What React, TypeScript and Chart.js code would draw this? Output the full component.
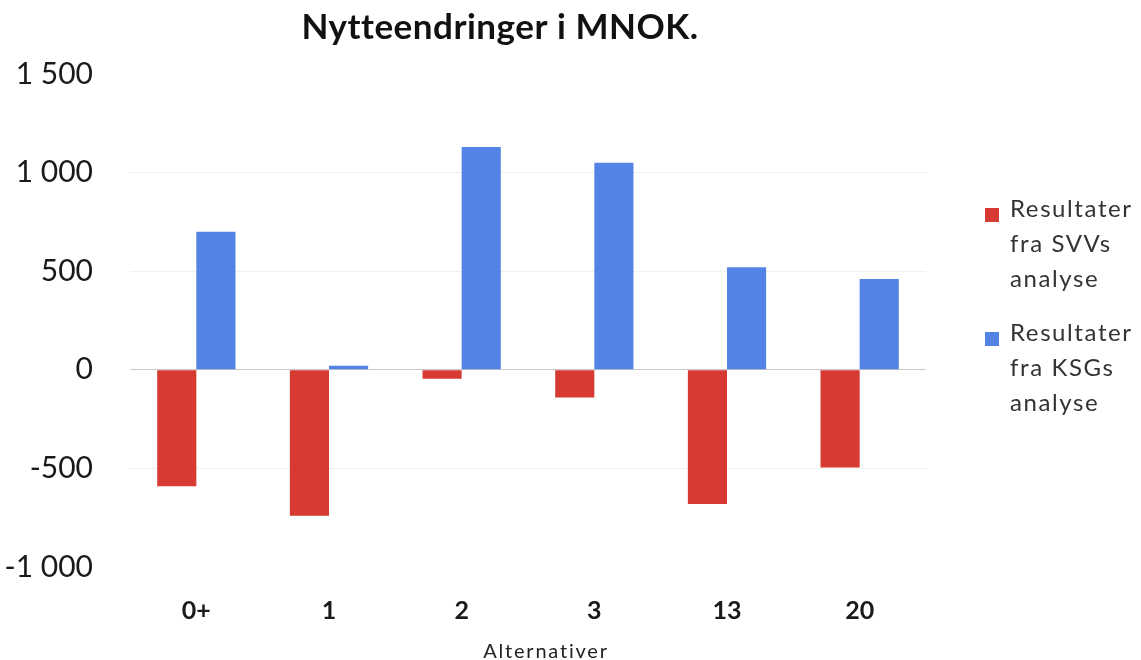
import React, { useEffect, useRef } from "react";
import { Chart, registerables } from "chart.js";

Chart.register(...registerables);

const categories = ["0+", "1", "2", "3", "13", "20"];
const svvValues = [-590, -740, -45, -140, -680, -495];
const ksgValues = [700, 20, 1130, 1050, 520, 460];
const seriesNames = [["Resultater", "fra SVVs", "analyse"], ["Resultater", "fra KSGs", "analyse"]];
const chartTitle = "Nytteendringer i MNOK.";
const xAxisTitle = "Alternativer";
const yMin = -1000;
const yMax = 1500;
const yStep = 500;

const RED = "#d63a33";
const BLUE = "#5383e5";
const FONT = "Lato, 'Open Sans', sans-serif";

function fmt(v: number): string {
  const s = Math.abs(v).toString().replace(/\B(?=(\d{3})+(?!\d))/g, " ");
  return (v < 0 ? "-" : "") + s;
}

const textPlugin = {
  id: "customText",
  afterDraw(chart: any) {
    const ctx = chart.ctx;
    ctx.save();
    // title
    ctx.fillStyle = "#111";
    ctx.font = `bold 35px ${FONT}`;
    ctx.textAlign = "center";
    ctx.textBaseline = "alphabetic";
    (ctx as any).letterSpacing = "0.5px";
    ctx.fillText(chartTitle, 500, 39);
    // x-axis title
    ctx.font = `20px ${FONT}`;
    ctx.fillStyle = "#222";
    (ctx as any).letterSpacing = "1.8px";
    ctx.fillText(xAxisTitle, 546, 658);
    // legend
    const colors = chart.data.datasets.map((d: any) => d.backgroundColor);
    const tops = [208, 332];
    ctx.textAlign = "left";
    ctx.font = `24px ${FONT}`;
    (ctx as any).letterSpacing = "1.6px";
    seriesNames.forEach((lines, i) => {
      ctx.fillStyle = colors[i];
      ctx.fillRect(985, tops[i], 14, 14);
      ctx.fillStyle = "#333";
      lines.forEach((ln, j) => {
        ctx.fillText(ln, 1010, tops[i] + 9 + j * 35);
      });
    });
    ctx.restore();
  },
};

export default function App() {
  const ref = useRef<HTMLCanvasElement | null>(null);
  useEffect(() => {
    document.body.style.margin = "0";
    if (!ref.current) return;
    const chart = new Chart(ref.current, {
      type: "bar",
      data: {
        labels: categories,
        datasets: [
          { label: seriesNames[0].join(" "), data: svvValues, backgroundColor: RED, borderWidth: 0 },
          { label: seriesNames[1].join(" "), data: ksgValues, backgroundColor: BLUE, borderWidth: 0 },
        ],
      },
      plugins: [textPlugin],
      options: {
        responsive: false,
        animation: false,
        maintainAspectRatio: false,
        layout: { padding: { left: 0, right: 215, top: 74, bottom: 0 } },
        datasets: { bar: { categoryPercentage: 0.59, barPercentage: 1.0 } },
        plugins: { legend: { display: false }, title: { display: false }, tooltip: { enabled: false } },
        scales: {
          x: {
            grid: { display: false, drawTicks: false },
            border: { display: false },
            ticks: { font: { family: FONT, size: 25, weight: "bold" }, color: "#1a1a1a", padding: 29 },
            afterFit: (s: any) => { s.height = 93; },
          },
          y: {
            min: yMin,
            max: yMax,
            border: { display: false },
            grid: {
              drawTicks: false,
              color: (c: any) => {
                const v = c.tick ? c.tick.value : null;
                if (v === 0) return "#c8c8c8";
                if (v === 1000 || v === 500 || v === -500) return "#f0f0f0";
                return "rgba(0,0,0,0)";
              },
            },
            ticks: {
              stepSize: yStep,
              padding: 37,
              color: "#1a1a1a",
              font: { family: FONT, size: 30 },
              callback: (v: any) => fmt(Number(v)),
            },
            afterFit: (s: any) => { s.width = 130; },
          },
        },
      },
    });
    return () => chart.destroy();
  }, []);
  return (
    <div style={{ width: 1141, height: 660 }}>
      <canvas ref={ref} width={1141} height={660} style={{ display: "block" }} />
    </div>
  );
}
